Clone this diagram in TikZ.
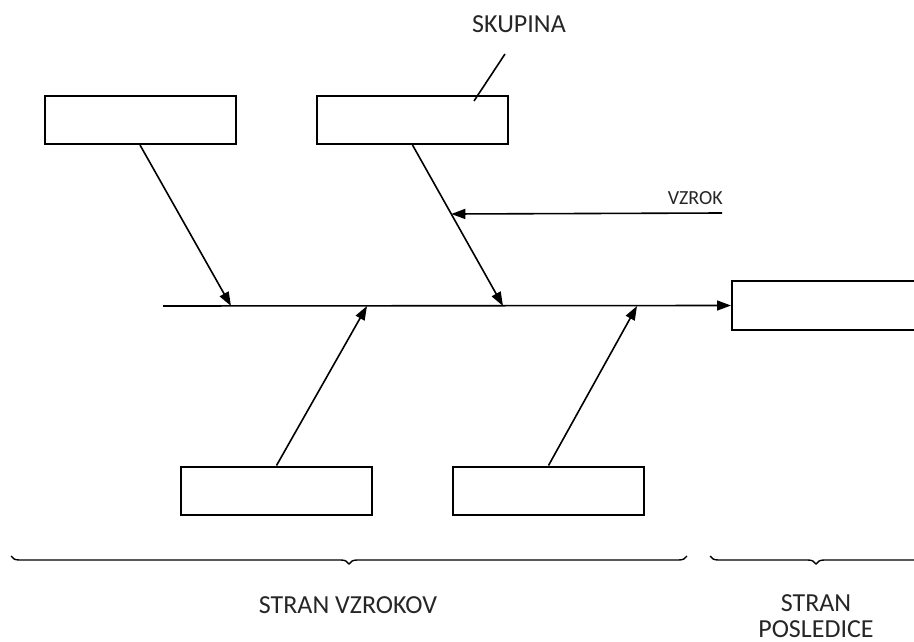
\documentclass[tikz,border=0pt]{standalone}
\usepackage{fontspec}
\setmainfont{Carlito}
\usetikzlibrary{arrows.meta,calc,decorations.pathreplacing}
\begin{document}
\begin{tikzpicture}[x=1pt,y=-1pt,
  box/.style={draw=black,line width=2pt,minimum width=191pt,minimum height=48pt,inner sep=0pt,fill=white},
  conn/.style={line width=1.6pt,-{Triangle[length=14pt,width=10pt]}},
  plain/.style={line width=1.6pt},
  lbl/.style={font=\fontsize{26}{29}\selectfont,text=black!85,inner sep=0pt},
  slbl/.style={font=\fontsize{20}{24}\selectfont,text=black!85,inner sep=0pt},
  brc/.style={decorate,decoration={brace,mirror,amplitude=8pt},line width=1.4pt}]
\useasboundingbox (0,0) rectangle (914,642);
\clip (0,0) rectangle (914,642);
% boxes
\node[box] (b1) at (140,120) {};
\node[box] (b2) at (412.5,120) {};
\node[box] (b3) at (276.5,490.5) {};
\node[box] (b4) at (548.5,490.5) {};
\node[box,minimum width=200pt,minimum height=49pt,anchor=west] (eff) at (731,305.5) {};
% spine
\coordinate (sp) at (163,306);
\draw[conn] (sp) -- (eff.west);
% spine targets
\coordinate (s1) at (231,306);
\coordinate (s2) at (503,306);
\coordinate (s3) at (367,306);
\coordinate (s4) at (637,306);
\draw[conn] (b1.south) -- (s1);
\draw[conn] (b2.south) -- (s2);
\draw[conn] (b3.north) -- (s3);
\draw[conn] (b4.north) -- (s4);
% VZROK
\coordinate (vz) at (722,213);
\coordinate (vzt) at ($(b2.south)!0.4286!(s2)$);
\draw[conn] (vz) -- (vzt);
\node[slbl,anchor=east] (vzl) at (723,198) {VZROK};
% SKUPINA
\coordinate (sk1) at (474,101);
\coordinate (sk2) at (505,54);
\draw[plain] (sk1) -- (sk2);
\node[lbl] (skl) at (519,24) {SKUPINA};
% braces
\coordinate (bl1) at (11,556);
\coordinate (bl2) at (687,556);
\coordinate (br1) at (710,556);
\coordinate (br2) at (922,556);
\draw[brc] (bl1) -- (bl2);
\draw[brc] (br1) -- (br2);
\node[lbl] (sv) at (348,605) {STRAN VZROKOV};
\node[lbl] (sp1) at (816,603) {STRAN};
\node[lbl] (sp2) at (816,629) {POSLEDICE};
\end{tikzpicture}
\end{document}
